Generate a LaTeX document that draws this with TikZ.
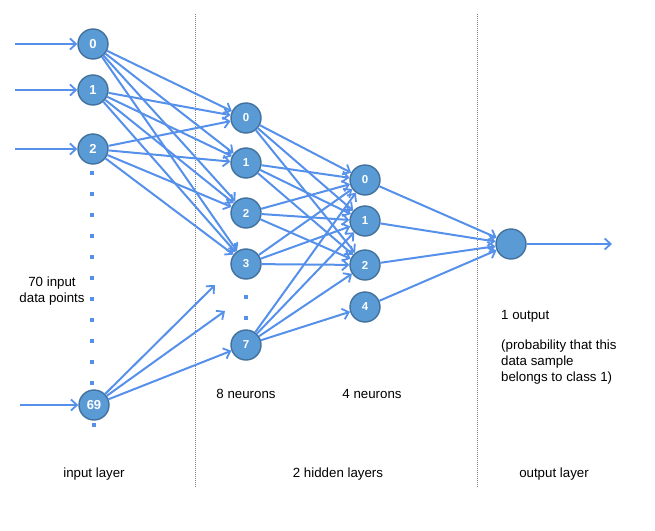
\documentclass[tikz,border=0pt]{standalone}
\usepackage{fontspec}
\setmainfont{Liberation Sans}
\usetikzlibrary{arrows.meta}
\definecolor{nodefill}{HTML}{5B9BD5}
\definecolor{nodeedge}{HTML}{41719C}
\definecolor{arrowblue}{HTML}{5590EA}
\definecolor{sepgray}{HTML}{808080}
\tikzset{
  neuron/.style={circle, fill=nodefill, draw=nodeedge, line width=1.4pt, minimum size=30pt, inner sep=0pt, text=white, font=\fontsize{13}{13}\selectfont\bfseries},
  hneuron/.style={neuron, font=\fontsize{11.5}{11.5}\selectfont\bfseries},
  conn/.style={draw=arrowblue, line width=2pt, -{Straight Barb[length=6pt,width=11pt,line width=1.8pt]}},
  sep/.style={draw=sepgray, line width=1pt, dash pattern=on 1pt off 1pt},
  lbl/.style={font=\fontsize{13.3}{16}\selectfont, text=black, inner sep=0pt},
  vdot/.style={fill=arrowblue, minimum size=3.5pt, inner sep=0pt, draw=none, rectangle}
}
\begin{document}
\begin{tikzpicture}[x=1pt,y=-1pt]
\useasboundingbox (0,0) rectangle (655,530);
% separators
\coordinate (sepAt) at (195,14); \coordinate (sepAb) at (195,487);
\coordinate (sepBt) at (477,14); \coordinate (sepBb) at (477,487);
\draw[sep] (sepAt) -- (sepAb);
\draw[sep] (sepBt) -- (sepBb);
% input layer
\node[neuron] (i0) at (93,44) {0};
\node[neuron] (i1) at (93,90) {1};
\node[neuron] (i2) at (93,149) {2};
\node[neuron] (i69) at (94,405) {69};
% hidden 1
\node[hneuron] (a0) at (246,118) {0};
\node[hneuron] (a1) at (246,163) {1};
\node[hneuron] (a2) at (246,213) {2};
\node[hneuron] (a3) at (246,264) {3};
\node[hneuron] (a7) at (246,345) {7};
% hidden 2
\node[hneuron] (b0) at (365,180) {0};
\node[hneuron] (b1) at (365,221) {1};
\node[hneuron] (b2) at (365,265) {2};
\node[hneuron] (b4) at (365,307) {4};
% output
\node[neuron] (o) at (511,244) {};
% vertical dots
\foreach \k in {0,...,10} {\node[vdot] (d\k) at (92,173+21*\k) {};}
\node[vdot] (d69) at (94,425) {};
\node[vdot] (h1) at (246,297) {};
\node[vdot] (h2) at (246,318) {};
% input arrows
\coordinate (s0) at (15,44);
\coordinate (s1) at (15,90);
\coordinate (s2) at (15,149);
\coordinate (s69) at (20,405);
\draw[conn] (s0) -- (i0);
\draw[conn] (s1) -- (i1);
\draw[conn] (s2) -- (i2);
\draw[conn] (s69) -- (i69);
% input -> hidden 1
\foreach \i in {i0,i1,i2} {\foreach \a in {a0,a1,a2,a3} {\draw[conn] (\i) -- (\a);}}
\coordinate (f1) at (215,285);
\coordinate (f2) at (225,311);
\draw[conn] (i69) -- (f1);
\draw[conn] (i69) -- (f2);
\draw[conn] (i69) -- (a7);
% hidden 1 -> hidden 2
\foreach \a in {a0,a1,a2,a3,a7} {\foreach \b in {b0,b1,b2} {\draw[conn] (\a) -- (\b);}}
\draw[conn] (a7) -- (b4);
% hidden 2 -> output
\foreach \b in {b0,b1,b2,b4} {\draw[conn] (\b) -- (o);}
\coordinate (oe) at (612,244);
\draw[conn] (o) -- (oe);
% labels
\node[lbl, align=center] (t70) at (52,291) {70 input\\data points};
\node[lbl] (tin) at (94,474) {input layer};
\node[lbl] (t8) at (246,394) {8 neurons};
\node[lbl] (t4) at (372,394) {4 neurons};
\node[lbl] (thid) at (338,474) {2 hidden layers};
\node[lbl] (tout) at (554,474) {output layer};
\node[lbl, anchor=west] (t1o) at (501,316) {1 output};
\node[lbl, anchor=north west, align=left] (tprob) at (501,340) {(probability that this\\data sample\\belongs to class 1)};
\end{tikzpicture}
\end{document}
